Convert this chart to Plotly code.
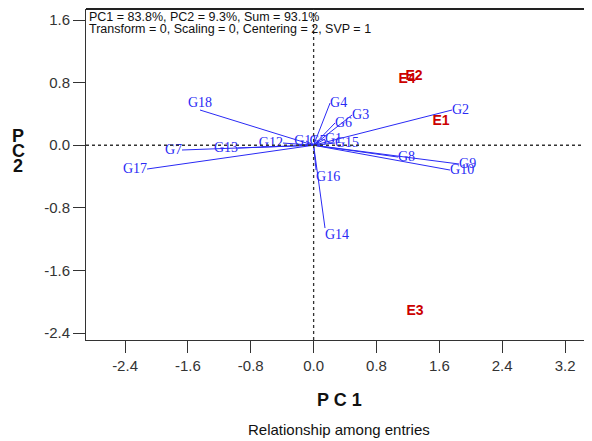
import plotly.graph_objects as go

# Genotype vector endpoints (PC1, PC2)
genotypes = ["G1", "G2", "G3", "G4", "G5", "G6", "G7", "G8", "G9", "G10",
             "G11", "G12", "G13", "G14", "G15", "G16", "G17", "G18"]
g_pc1 = [0.145, 1.761, 0.489, 0.209, 0.056, 0.272, -1.675, 1.074, 1.851, 1.736,
         -0.097, -0.390, -0.962, 0.145, 0.272, 0.031, -2.120, -1.446]
g_pc2 = [0.079, 0.450, 0.386, 0.539, 0.054, 0.284, -0.061, -0.151, -0.240, -0.317,
         0.054, 0.028, -0.036, -1.058, 0.028, -0.317, -0.304, 0.450]

# Environment scores
environments = ["E1", "E2", "E3", "E4"]
e_pc1 = [1.621, 1.278, 1.290, 1.188]
e_pc2 = [0.309, 0.884, -2.125, 0.846]

x_ticks = [-2.4, -1.6, -0.8, 0.0, 0.8, 1.6, 2.4, 3.2]
x_tick_labels = ["-2.4", "-1.6", "-0.8", "0.0", "0.8", "1.6", "2.4", "3.2"]
y_ticks = [-2.4, -1.6, -0.8, 0.0, 0.8, 1.6]
y_tick_labels = ["-2.4", "-1.6", "-0.8", "0.0", "0.8", "1.6"]

# label placement (style)
g_textpos = ["middle right", "middle right", "middle right", "middle right", "middle center",
             "middle right", "middle left", "middle right", "middle right", "middle right",
             "middle center", "middle left", "middle left", "bottom right", "middle right",
             "bottom right", "middle left", "top center"]

BLUE = "#2a2af5"
RED = "#cc0000"
INK = "#111"

lx, ly = [], []
for x, y in zip(g_pc1, g_pc2):
    lx += [0, x, None]
    ly += [0, y, None]

fig = go.Figure()
fig.add_trace(go.Scatter(x=lx, y=ly, mode="lines",
                         line=dict(color=BLUE, width=1), hoverinfo="skip",
                         showlegend=False))
fig.add_trace(go.Scatter(x=g_pc1, y=g_pc2, mode="text", text=genotypes,
                         textposition=g_textpos,
                         textfont=dict(family="Liberation Serif", size=14, color=BLUE),
                         showlegend=False))
fig.add_trace(go.Scatter(x=e_pc1, y=e_pc2, mode="text", text=environments,
                         textposition="middle center",
                         textfont=dict(family="Liberation Sans", size=14, color=RED,
                                       weight="bold"),
                         showlegend=False))

axis_common = dict(showgrid=False, zeroline=False, ticks="outside", ticklen=12,
                   tickcolor="#333", tickwidth=1, showline=True, linecolor="#333",
                   linewidth=1, tickmode="array",
                   tickfont=dict(family="Liberation Sans", size=15, color="#333"))

# page body has an 8px margin; figure is sized/offset to compensate
fig.update_layout(
    width=584, height=433,
    margin=dict(l=78, r=0, t=1, b=101),
    paper_bgcolor="white", plot_bgcolor="white",
    xaxis=dict(range=[-2.897, 3.543], tickvals=x_ticks, ticktext=x_tick_labels,
               **axis_common),
    yaxis=dict(range=[-2.489, 1.741], tickvals=y_ticks, ticktext=y_tick_labels,
               **axis_common),
    shapes=[
        dict(type="line", xref="paper", yref="paper", x0=0, x1=1, y0=1, y1=1,
             line=dict(color="#222", width=2)),
        dict(type="line", xref="x", yref="paper", x0=0, x1=0, y0=0, y1=1,
             line=dict(color="#333", width=1.3, dash="3px,3px")),
        dict(type="line", xref="paper", yref="y", x0=0, x1=1, y0=0, y1=0,
             line=dict(color="#333", width=1.3, dash="3px,3px")),
    ],
    annotations=[
        dict(text="PC1 = 83.8%, PC2 = 9.3%, Sum = 93.1%", xref="paper", yref="paper",
             x=0, y=0.977, xshift=1, xanchor="left", yanchor="middle", showarrow=False,
             font=dict(family="Liberation Sans", size=12.5, color=INK)),
        dict(text="Transform = 0, Scaling = 0, Centering = 2, SVP = 1", xref="paper",
             yref="paper", x=0, y=0.941, xshift=1, xanchor="left", yanchor="middle",
             showarrow=False, font=dict(family="Liberation Sans", size=12.5, color=INK)),
        dict(text="P C 1", xref="paper", yref="paper", x=0.5, y=-0.181,
             xanchor="center", yanchor="middle", showarrow=False,
             font=dict(family="Liberation Sans", size=18, color=INK, weight="bold")),
        dict(text="Relationship among entries", xref="paper", yref="paper", x=0.5,
             y=-0.269, xanchor="center", yanchor="middle", showarrow=False,
             font=dict(family="Liberation Sans", size=15, color=INK)),
        dict(text="P", xref="paper", yref="paper", x=-0.134, y=0.616,
             xanchor="center", yanchor="middle", showarrow=False,
             font=dict(family="Liberation Sans", size=18, color=INK, weight="bold")),
        dict(text="C", xref="paper", yref="paper", x=-0.134, y=0.571,
             xanchor="center", yanchor="middle", showarrow=False,
             font=dict(family="Liberation Sans", size=18, color=INK, weight="bold")),
        dict(text="2", xref="paper", yref="paper", x=-0.134, y=0.526,
             xanchor="center", yanchor="middle", showarrow=False,
             font=dict(family="Liberation Sans", size=18, color=INK, weight="bold")),
    ],
)

fig.write_html("out.html")
